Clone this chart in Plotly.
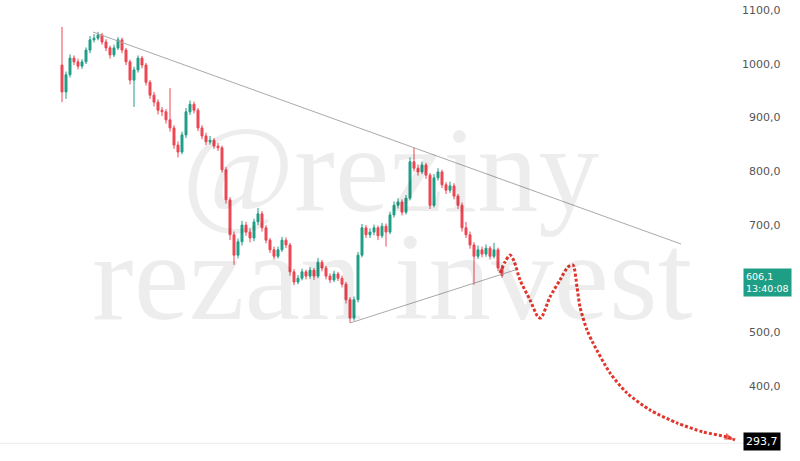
import plotly.graph_objects as go

# ---------------- data ----------------
candle_idx = list(range(111))

open_ = [998, 948, 980, 1011, 1004, 996, 1004, 1026, 1045, 1048,
         1054, 1041, 1030, 1017, 1030, 1045, 1026, 1004, 970, 989,
         1011, 998, 966, 942, 929, 914, 911, 896, 881, 849,
         836, 868, 911, 925, 914, 881, 866, 855, 858, 847,
         844, 803, 747, 682, 644, 669, 700, 687, 676, 706,
         721, 695, 672, 654, 642, 654, 672, 663, 613, 594,
         601, 613, 605, 616, 605, 631, 620, 605, 598, 609,
         601, 590, 561, 527, 561, 644, 695, 682, 687, 695,
         680, 698, 687, 719, 737, 743, 724, 750, 818, 806,
         799, 812, 793, 737, 788, 799, 775, 765, 773, 754,
         737, 695, 682, 663, 642, 654, 646, 657, 642, 654, 620]

high = [1069, 986, 1018, 1016, 1010, 1009, 1031, 1052, 1056, 1060,
        1058, 1046, 1034, 1036, 1050, 1049, 1030, 1008, 995, 1016,
        1015, 1002, 970, 948, 934, 920, 916, 955, 886, 856,
        874, 918, 932, 930, 918, 886, 872, 866, 862, 853,
        848, 808, 752, 688, 675, 708, 706, 694, 712, 732,
        726, 700, 676, 660, 660, 678, 677, 667, 618, 607,
        619, 617, 622, 620, 639, 635, 624, 610, 615, 613,
        606, 594, 566, 567, 650, 702, 700, 694, 701, 699,
        704, 703, 725, 744, 750, 748, 756, 826, 844, 813,
        818, 816, 797, 795, 806, 803, 780, 781, 778, 758,
        742, 706, 688, 668, 662, 660, 664, 661, 667, 658, 626]

low = [929, 935, 975, 998, 990, 991, 1000, 1020, 1040, 1044,
       1036, 1024, 1010, 1013, 1026, 1020, 998, 962, 920, 984,
       992, 960, 935, 921, 906, 903, 889, 874, 842, 826,
       832, 862, 905, 908, 875, 860, 849, 850, 842, 838,
       798, 740, 672, 626, 638, 662, 680, 668, 670, 700,
       688, 666, 648, 636, 638, 650, 657, 606, 588, 590,
       597, 599, 600, 598, 601, 614, 599, 592, 594, 596,
       584, 554, 518, 522, 556, 640, 676, 676, 681, 672,
       676, 660, 683, 714, 731, 718, 720, 746, 800, 792,
       795, 786, 730, 733, 783, 769, 758, 760, 748, 730,
       688, 676, 656, 589, 637, 640, 641, 636, 638, 614, 602]

close = [948, 980, 1011, 1004, 996, 1004, 1026, 1045, 1048, 1054,
         1041, 1030, 1017, 1030, 1045, 1026, 1004, 970, 989, 1011,
         998, 966, 942, 929, 914, 911, 896, 881, 849, 836,
         868, 911, 925, 914, 881, 866, 855, 858, 847, 844,
         803, 747, 682, 644, 669, 700, 687, 676, 706, 721,
         695, 672, 654, 642, 654, 672, 663, 613, 594, 601,
         613, 605, 616, 605, 631, 620, 605, 598, 609, 601,
         590, 561, 527, 561, 644, 695, 682, 687, 695, 680,
         698, 687, 719, 737, 743, 724, 750, 818, 806, 799,
         812, 793, 737, 788, 799, 775, 765, 773, 754, 737,
         695, 682, 663, 642, 654, 646, 657, 642, 654, 620, 606.1]

upper_trend_x = [7.75, 154.75]
upper_trend_y = [1059.6, 664.8]
lower_trend_x = [72, 113.25]
lower_trend_y = [517.7, 616.4]

forecast_x = [109.5, 110.75, 112, 113, 114.5, 117, 119, 119.75, 122, 124.5,
              126.5, 127.75, 128.75, 129.5, 131.25, 132.75, 137, 141.25,
              147, 153.75, 160.25, 166.25, 168.25]
forecast_y = [610.8, 631.3, 644.4, 633.2, 597.8, 560.6, 528.9, 527, 566.2, 597.8,
              622, 625.7, 584.8, 547.5, 504.7, 480.5, 424.6, 387.4,
              355.7, 331.5, 314.8, 305.5, 299.9]

tick_values = [300, 400, 500, 600, 700, 800, 900, 1000, 1100]
tick_labels = ["300,0", "400,0", "500,0", "600,0", "700,0", "800,0",
               "900,0", "1000,0", "1100,0"]

last_price = 606.1
last_price_label = "606,1"
countdown_label = "13:40:08"
target_price = 293.7
target_label = "293,7"

watermark_top = "@reziny"
watermark_bottom = "rezan invest"

# ---------------- style ----------------
GREEN = "#1f9e86"
RED = "#ef4652"
ARROW_RED = "#e2352b"
TREND = "#a9a9a9"

fig = go.Figure()

fig.add_trace(go.Candlestick(
    x=candle_idx, open=open_, high=high, low=low, close=close,
    increasing=dict(line=dict(color=GREEN, width=1), fillcolor=GREEN),
    decreasing=dict(line=dict(color=RED, width=1), fillcolor=RED),
    whiskerwidth=0, hoverinfo="skip"))

fig.add_trace(go.Scatter(x=upper_trend_x, y=upper_trend_y, mode="lines",
                         line=dict(color=TREND, width=1), hoverinfo="skip"))
fig.add_trace(go.Scatter(x=lower_trend_x, y=lower_trend_y, mode="lines",
                         line=dict(color=TREND, width=1), hoverinfo="skip"))

fig.add_trace(go.Scatter(x=forecast_x, y=forecast_y, mode="lines",
                         line=dict(color=ARROW_RED, width=3, dash="3px,2px",
                                   shape="spline", smoothing=0.7),
                         hoverinfo="skip"))
fig.add_trace(go.Scatter(x=forecast_x[-2:], y=forecast_y[-2:], mode="markers",
                         marker=dict(symbol="arrow", angleref="previous",
                                     size=[0, 11], color=ARROW_RED,
                                     line=dict(width=0)),
                         hoverinfo="skip"))

plot_w = 745.0

annotations = []
# watermark
annotations.append(dict(text=watermark_top, xref="paper", yref="paper",
                        x=390 / plot_w, y=(461 - 169) / 461, showarrow=False,
                        xanchor="center", yanchor="middle",
                        font=dict(family="Liberation Serif", size=122,
                                  color="rgba(0,0,0,0.07)")))
annotations.append(dict(text=watermark_bottom, xref="paper", yref="paper",
                        x=392 / plot_w, y=(461 - 277) / 461, showarrow=False,
                        xanchor="center", yanchor="middle",
                        font=dict(family="Liberation Serif", size=125,
                                  color="rgba(0,0,0,0.07)")))

for v, lab in zip(tick_values, tick_labels):
    annotations.append(dict(text=lab, xref="paper", yref="y",
                            x=783 / plot_w, y=v, showarrow=False,
                            xanchor="right", yanchor="middle",
                            font=dict(family="DejaVu Sans", size=11, color="#555555")))

annotations.append(dict(text=last_price_label + "<br>" + countdown_label,
                        xref="paper", yref="y", x=743 / plot_w, y=last_price,
                        xanchor="left", yanchor="top", yshift=8, showarrow=False,
                        align="left", bgcolor=GREEN, borderpad=2,
                        font=dict(family="DejaVu Sans", size=9.5, color="white")))
annotations.append(dict(text=target_label, xref="paper", yref="y",
                        x=743 / plot_w, y=target_price, xanchor="left",
                        yanchor="middle", yshift=2, showarrow=False, bgcolor="black",
                        borderpad=2,
                        font=dict(family="DejaVu Sans", size=11, color="white")))

fig.update_layout(
    width=800, height=461,
    margin=dict(l=0, r=55, t=0, b=0),
    paper_bgcolor="white", plot_bgcolor="white",
    showlegend=False,
    xaxis=dict(range=[-15.5, 170.75], visible=False,
               rangeslider=dict(visible=False)),
    yaxis=dict(range=[260.7, 1119.2], showgrid=False, zeroline=False,
               showticklabels=False, side="right", showline=False),
    annotations=annotations,
    shapes=[dict(type="line", xref="paper", yref="y", x0=0, x1=1,
                 y0=target_price, y1=target_price,
                 line=dict(color="#ececec", width=1), layer="below")],
)

fig.write_html("out.html", config={"displayModeBar": False},
               post_script="document.body.style.margin='0px';")
